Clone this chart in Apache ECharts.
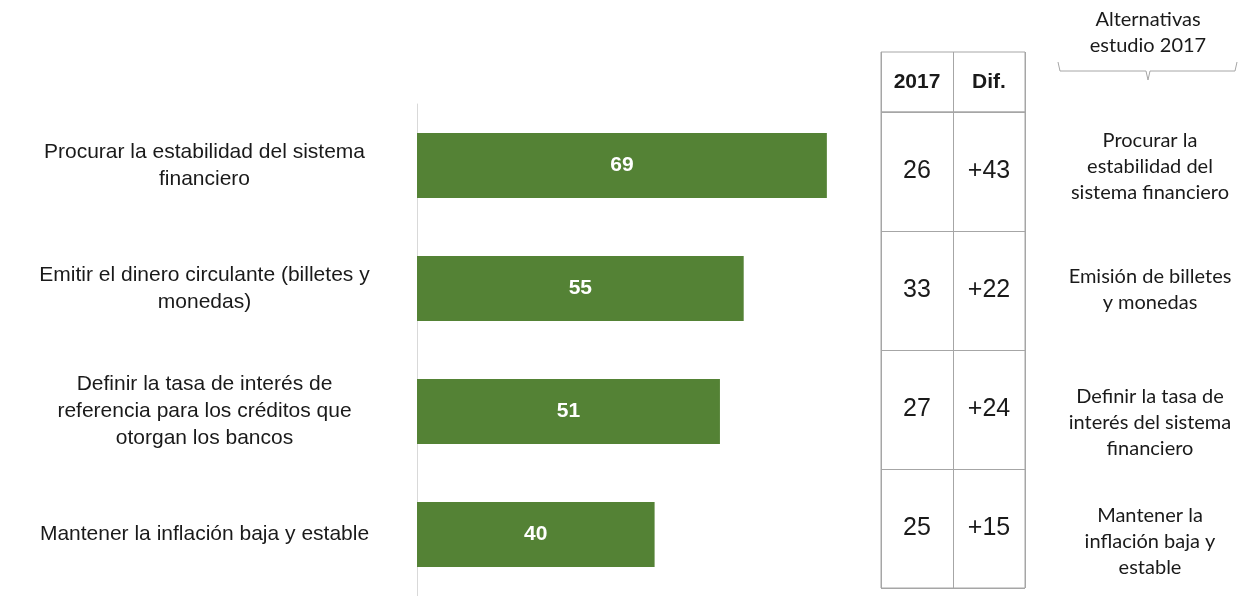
<!DOCTYPE html>
<html>
<head>
<meta charset="utf-8">
<script src="https://cdn.jsdelivr.net/npm/echarts@6/dist/echarts.min.js"></script>
<style>
  html, body { margin: 0; padding: 0; background: #fff; }
  #chart { width: 1244px; height: 596px; }
</style>
</head>
<body>
<div id="chart"></div>
<script>
// datos
var categorias = [
  ['Procurar la estabilidad del sistema', 'financiero'],
  ['Emitir el dinero circulante (billetes y', 'monedas)'],
  ['Definir la tasa de interés de', 'referencia para los créditos que', 'otorgan los bancos'],
  ['Mantener la inflación baja y estable']
];
var valores = [69, 55, 51, 40];
var columnasTabla = ['2017', 'Dif.'];
var valores2017 = [26, 33, 27, 25];
var diferencias = ['+43', '+22', '+24', '+15'];
var tituloAlternativas = 'Alternativas\nestudio 2017';
var alternativas = [
  'Procurar la\nestabilidad del\nsistema financiero',
  'Emisión de billetes\ny monedas',
  'Definir la tasa de\ninterés del sistema\nfinanciero',
  'Mantener la\ninflación baja y\nestable'
];

var myChart = echarts.init(document.getElementById('chart'));

var filas = categorias.map(function (c, i) { return 'f' + i; });
var borde = '#a6a6a6';
var texto = '#1a1a1a';
var arial = 'Liberation Sans, Arial, sans-serif';
var calibri = 'Lato, Open Sans, sans-serif';

var celdas = [];
valores2017.forEach(function (v, i) {
  celdas.push([0, i, String(v)]);
  celdas.push([1, i, diferencias[i]]);
});

var notasY = [167, 290, 423, 542];

var option = {
  animation: false,
  grid: [
    { left: 417, top: 104, width: 594, bottom: 0 },
    { left: 881, top: 112, width: 144, height: 476, show: true, borderColor: borde, borderWidth: 1 },
    { left: 881, top: 52, width: 144, height: 60, show: true, borderColor: borde, borderWidth: 1 }
  ],
  xAxis: [
    { gridIndex: 0, type: 'value', min: 0, max: 100, show: false },
    {
      gridIndex: 1, type: 'category', data: columnasTabla,
      axisLine: { show: false }, axisTick: { show: false }, axisLabel: { show: false },
      splitLine: { show: true, lineStyle: { color: borde, width: 1 } }
    },
    {
      gridIndex: 2, type: 'category', data: columnasTabla,
      axisLine: { show: false }, axisTick: { show: false }, axisLabel: { show: false },
      splitLine: { show: true, lineStyle: { color: borde, width: 1 } }
    }
  ],
  yAxis: [
    {
      gridIndex: 0, type: 'category', inverse: true,
      data: categorias.map(function (c) { return c.join('\n'); }),
      axisLine: { show: true, lineStyle: { color: '#d9d9d9', width: 1 } },
      axisTick: { show: false },
      axisLabel: {
        margin: 20,
        formatter: function (v) {
          return v.split('\n').map(function (l) { return '{a|' + l + '}'; }).join('\n');
        },
        rich: {
          a: { width: 385, align: 'center', fontSize: 21, lineHeight: 27, fontFamily: arial, color: texto }
        }
      }
    },
    {
      gridIndex: 1, type: 'category', inverse: true, data: filas,
      axisLine: { show: false }, axisTick: { show: false }, axisLabel: { show: false },
      splitLine: { show: true, lineStyle: { color: borde, width: 1 } }
    },
    {
      gridIndex: 2, type: 'category', data: ['h'],
      axisLine: { show: false }, axisTick: { show: false }, axisLabel: { show: false }
    }
  ],
  series: [
    {
      type: 'bar', xAxisIndex: 0, yAxisIndex: 0,
      data: valores, barWidth: 65,
      itemStyle: { color: '#548235' },
      label: { show: true, position: 'inside', color: '#fff', fontWeight: 'bold', fontSize: 21, fontFamily: arial }
    },
    {
      type: 'scatter', xAxisIndex: 1, yAxisIndex: 1, symbolSize: 0,
      itemStyle: { opacity: 1 },
      data: celdas,
      label: {
        show: true, position: 'inside',
        formatter: function (p) { return p.data[2]; },
        fontSize: 25, color: texto, fontFamily: arial
      }
    },
    {
      type: 'scatter', xAxisIndex: 2, yAxisIndex: 2, symbolSize: 0,
      itemStyle: { opacity: 1 },
      data: columnasTabla.map(function (c, i) { return [i, 0, c]; }),
      label: {
        show: true, position: 'inside',
        formatter: function (p) { return p.data[2]; },
        fontSize: 21, fontWeight: 'bold', color: texto, fontFamily: arial
      }
    }
  ],
  graphic: [
    {
      type: 'text', x: 1148, y: 33,
      style: {
        text: tituloAlternativas, align: 'center', verticalAlign: 'middle',
        fontSize: 20, lineHeight: 26, fill: texto, fontFamily: calibri
      }
    },
    {
      type: 'polyline',
      shape: { points: [[1058, 62], [1060, 71], [1146, 71], [1148, 80], [1150, 71], [1235, 71], [1237, 62]] },
      style: { stroke: borde, lineWidth: 1, fill: null }
    }
  ].concat(alternativas.map(function (t, i) {
    return {
      type: 'text', x: 1150, y: notasY[i],
      style: {
        text: t, align: 'center', verticalAlign: 'middle',
        fontSize: 20, lineHeight: 26, fill: texto, fontFamily: calibri
      }
    };
  }))
};

myChart.setOption(option);
</script>
</body>
</html>
